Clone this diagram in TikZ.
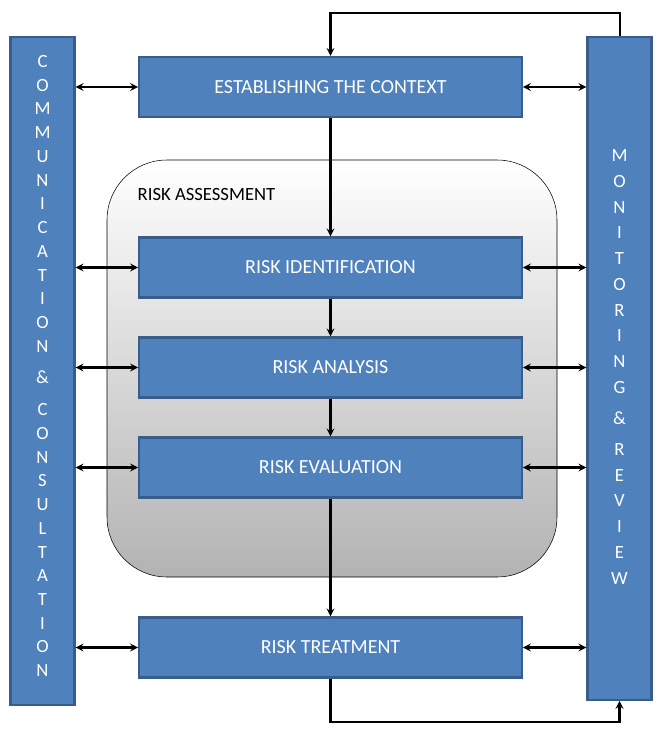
\documentclass[tikz,border=0pt]{standalone}
\usepackage{fontspec}
\setmainfont{Carlito}
\usetikzlibrary{positioning}
\definecolor{boxblue}{HTML}{4F81BD}
\definecolor{boxline}{HTML}{385D8A}
\tikzset{
  box/.style={draw=boxline, line width=1.6pt, fill=boxblue, text=white,
    minimum width=287pt, minimum height=45pt, font=\fontsize{15}{17}\selectfont},
  bar/.style={draw=boxline, line width=1.6pt, fill=boxblue, text=white,
    minimum width=48pt, align=center},
  link/.style={<->, >=stealth, line width=1.6pt},
  flow/.style={->, >=stealth, line width=1.6pt}
}
\begin{document}
\begin{tikzpicture}[x=0.75pt,y=-0.75pt]
  \useasboundingbox (0,0) rectangle (664,736);
  % risk assessment frame
  \shade[top color=white, bottom color=black!30, draw=black, rounded corners=45pt]
    (107,160) rectangle (557,577);
  \node[anchor=north west, font=\fontsize{14}{16}\selectfont] (ra) at (133,184) {RISK ASSESSMENT};

  % side bars
  \node[bar, minimum height=501pt] (cc) at (42.5,371) {};
  \node[font=\fontsize{14}{17.8}\selectfont, text=white, align=center] (cct) at (42.5,366)
    {C\\O\\M\\M\\U\\N\\I\\C\\A\\T\\I\\O\\N\\[6pt]\&\\[6pt]C\\O\\N\\S\\U\\L\\T\\A\\T\\I\\O\\N};
  \node[bar, minimum height=497pt] (mr) at (619.5,368.5) {};
  \node[font=\fontsize{14}{19.3}\selectfont, text=white, align=center] (mrt) at (619.5,367)
    {M\\O\\N\\I\\T\\O\\R\\I\\N\\G\\[4pt]\&\\[4pt]R\\E\\V\\I\\E\\W};

  % process steps
  \node[box] (ctx) at (330.5,87) {ESTABLISHING THE CONTEXT};
  \node[box] (rid) at (330.5,267.5) {RISK IDENTIFICATION};
  \node[box] (ran) at (330.5,367.5) {RISK ANALYSIS};
  \node[box] (rev) at (330.5,467.5) {RISK EVALUATION};
  \node[box] (rtr) at (330.5,647.5) {RISK TREATMENT};

  \draw[flow] (ctx) -- (rid);
  \draw[flow] (rid) -- (ran);
  \draw[flow] (ran) -- (rev);
  \draw[flow] (rev) -- (rtr);

  \foreach \n in {ctx,rid,ran,rev,rtr}{
    \draw[link] (\n.west) -- (\n.west -| cc.east);
    \draw[link] (\n.east) -- (\n.east -| mr.west);
  }

  % feedback loop
  \coordinate (top) at (620,13);
  \coordinate (bot) at (330.5,722);
  \draw[flow] (mr.north -| top) -- (top) -| (ctx.north);
  \draw[flow] (rtr.south) -- (bot) -| (mr.south);
\end{tikzpicture}
\end{document}
